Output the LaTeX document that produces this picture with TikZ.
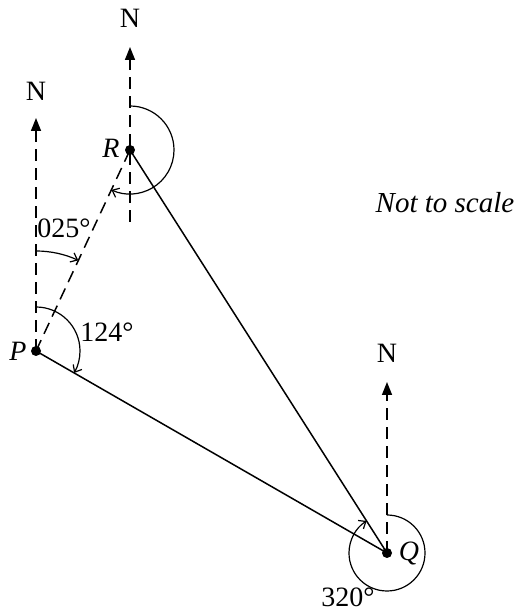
\documentclass[tikz,border=0pt]{standalone}
\usepackage{fontspec}
\setmainfont{Liberation Serif}
\usetikzlibrary{arrows.meta}
\begin{document}
\begin{tikzpicture}[x=1pt,y=1pt,
  lw/.style={line width=1.5pt},
  northline/.style={lw,dash pattern=on 12pt off 7pt,-{Triangle[length=13pt,width=10pt]}},
  bearline/.style={lw,dash pattern=on 12pt off 7pt},
  anglearc/.style={line width=1.2pt,-{Straight Barb[length=6pt,width=10pt]}},
  lab/.style={font=\fontsize{28}{32}\selectfont,inner sep=0pt},
  ptlab/.style={font=\fontsize{28}{32}\selectfont\itshape,inner sep=0pt},
  dot/.style={circle,fill=black,inner sep=0pt,minimum size=10pt}]
\useasboundingbox (0,0) rectangle (516,612);
% points
\node[dot] (P) at (36,261) {};
\node[dot] (R) at (130,462) {};
\node[dot] (Q) at (387,59) {};
% north tips
\coordinate (PN) at (36,494);
\coordinate (RN) at (130,565);
\coordinate (RS) at (130,390);
\coordinate (QN) at (387,230);
\draw[northline] (P.center) -- (PN);
\draw[northline] (RS) -- (RN);
\draw[northline] (Q.center) -- (QN);
\node[lab] (NP) at (36,521) {N};
\node[lab] (NR) at (130,594) {N};
\node[lab] (NQ) at (387,259) {N};
% lines
\draw[bearline] (P.center) -- (R.center);
\draw[lw] (P.center) -- (Q.center);
\draw[lw] (Q.center) -- (R.center);
% angle arcs
\draw[anglearc] ([shift={(90:100)}]P.center) arc[start angle=90,end angle=65,radius=100];
\draw[anglearc] ([shift={(90:44)}]P.center) arc[start angle=90,end angle=-30,radius=44];
\draw[anglearc] ([shift={(90:44)}]R.center) arc[start angle=90,end angle=-115,radius=44];
\draw[anglearc] ([shift={(90:38)}]Q.center) arc[start angle=90,end angle=-237.5,radius=38];
% labels
\node[ptlab] (lP) at (18,261) {P};
\node[ptlab] (lR) at (111,464) {R};
\node[ptlab] (lQ) at (409,58) {Q};
\node[lab] (a1) at (64,384) {025°};
\node[lab] (a2) at (107,280) {124°};
\node[lab] (a3) at (348,15) {320°};
\node[font=\fontsize{29}{32}\selectfont\itshape,inner sep=0pt] (nts) at (445,409) {Not to scale};
\end{tikzpicture}
\end{document}
